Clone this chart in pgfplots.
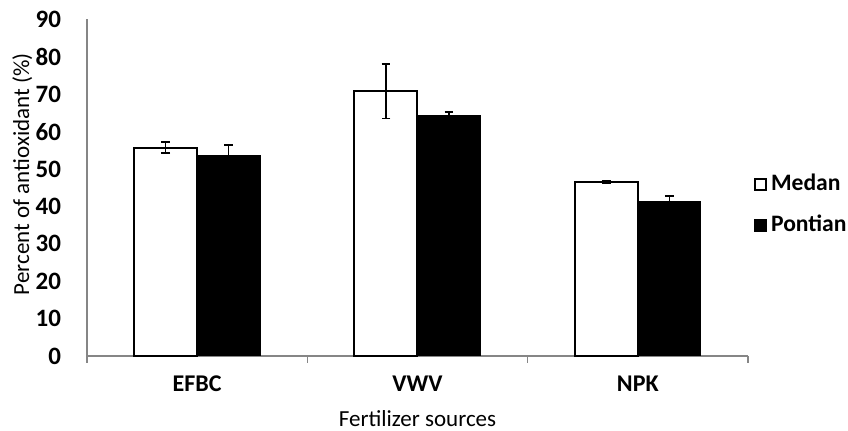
\documentclass[border=0pt]{standalone}
\usepackage{pgfplots}
\pgfplotsset{compat=1.18}
\usepackage{fontspec}
\setmainfont{Carlito}
\definecolor{axisgray}{RGB}{134,134,134}

\begin{document}
\fontsize{11.5}{13.5}\selectfont
\begin{tikzpicture}
\begin{axis}[
    at={(0,0)}, anchor=south west,
    scale only axis,
    width=330.5pt, height=168.3pt,
    xmin=-0.5, xmax=2.5,
    ymin=0, ymax=90,
    ytick={0,10,...,90},
    ytick style={draw=none},
    yticklabel style={font=\fontsize{12.5}{14}\selectfont\bfseries, xshift=-5.5pt},
    /pgf/number format/assume math mode=true,
    xtick={-0.5,0.5,1.5,2.5},
    xticklabels={},
    tick align=outside,
    major tick length=3.5pt,
    xtick pos=bottom,
    tick style={axisgray, line width=0.6pt},
    extra x ticks={0,1,2},
    extra x tick labels={EFBC,VWV,NPK},
    extra x tick style={major tick length=0pt, xticklabel style={font=\fontsize{12}{14}\selectfont\bfseries, yshift=-6pt}},
    axis x line*=bottom,
    axis y line*=left,
    axis line style={axisgray, line width=0.6pt},
    xlabel={Fertilizer sources},
    ylabel={Percent of antioxidant (\%)},
    every axis x label/.style={at={(axis description cs:0.5,-0.185)}, anchor=center},
    every axis y label/.style={at={(axis description cs:-0.098,0.54)}, rotate=90, anchor=center},
    legend style={at={(axis description cs:1.008,0.449)}, anchor=west, draw=none, fill=none,
        row sep=8pt, inner sep=0pt, font=\fontsize{11.8}{14}\selectfont\bfseries,
        nodes={inner sep=1.2pt}},
    legend cell align=left,
    legend image code/.code={\draw[#1, line width=1pt] (0pt,-2.75pt) rectangle (5.5pt,2.75pt);
        \path (6.5pt,0pt);},
    clip=false,
]
% bars are placed at their own centres so that error bars sit on them
\addplot[ybar, bar width=0.286, bar shift=0pt, fill=white, draw=black, line width=1pt,
    error bars/.cd, y dir=both, y explicit,
    error bar style={black, line width=0.6pt},
    error mark options={rotate=90, mark size=2.2pt, line width=0.8pt, black}]
    coordinates {
    (-0.143,55.7) +- (0,1.5)
    (0.857,70.8) +- (0,7.3)
    (1.857,46.6) +- (0,0.3)
};
\addplot[ybar, bar width=0.286, bar shift=0pt, fill=black, draw=black, line width=0.5pt,
    error bars/.cd, y dir=both, y explicit,
    error bar style={black, line width=0.6pt},
    error mark options={rotate=90, mark size=2.2pt, line width=0.8pt, black}]
    coordinates {
    (0.143,53.7) +- (0,2.7)
    (1.143,64.2) +- (0,1.0)
    (2.143,41.4) +- (0,1.4)
};
\legend{Medan,Pontian}
\end{axis}
\pgfresetboundingbox
\path (-43.5pt,-37.5pt) rectangle (380.5pt,178pt);
\end{tikzpicture}
\end{document}
